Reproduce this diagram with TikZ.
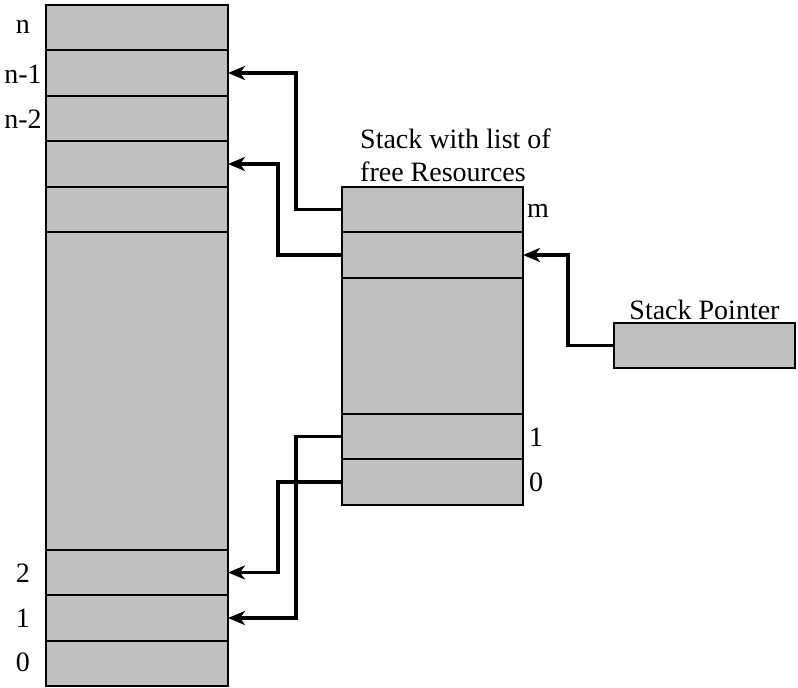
\documentclass[tikz,border=0pt]{standalone}
\usepackage{fontspec}
\setmainfont{Liberation Serif}
\usetikzlibrary{arrows.meta}
\definecolor{cellgray}{HTML}{C0C0C0}
\begin{document}
\begin{tikzpicture}[x=1pt,y=-1pt,
  cell/.style={draw=black, fill=cellgray, line width=1.2pt, inner sep=0pt, outer sep=0pt, minimum width=182pt},
  lab/.style={inner sep=0pt, anchor=base, font=\fontsize{28}{34}\selectfont},
  rlab/.style={inner sep=0pt, anchor=base west, font=\fontsize{28}{34}\selectfont},
  conn/.style={line width=3.3pt, -{Stealth[length=17pt,width=14pt,inset=5pt]}}]
\useasboundingbox (0,0) rectangle (798,688);
% left column
\node[cell, minimum height=45pt] (Ln)  at (137,27.5) {};
\node[cell, minimum height=46pt] (Ln1) at (137,73) {};
\node[cell, minimum height=45pt] (Ln2) at (137,118.5) {};
\node[cell, minimum height=46pt] (L3)  at (137,164) {};
\node[cell, minimum height=45pt] (L4)  at (137,209.5) {};
\node[cell, minimum height=318pt] (Lbig) at (137,391) {};
\node[cell, minimum height=45pt] (L2)  at (137,572.5) {};
\node[cell, minimum height=46pt] (L1)  at (137,618) {};
\node[cell, minimum height=45pt] (L0)  at (137,663.5) {};
% stack
\node[cell, minimum width=181pt, minimum height=45pt] (Sm)  at (432.5,209.5) {};
\node[cell, minimum width=181pt, minimum height=46pt] (Sm1) at (432.5,255) {};
\node[cell, minimum width=181pt, minimum height=136pt] (Sbig) at (432.5,346) {};
\node[cell, minimum width=181pt, minimum height=45pt] (S1)  at (432.5,436.5) {};
\node[cell, minimum width=181pt, minimum height=46pt] (S0)  at (432.5,482) {};
% stack pointer
\node[cell, minimum width=181pt, minimum height=45pt] (SP) at (704.5,345.5) {};
% labels
\node[lab] (tn)  at (23,33) {n};
\node[lab] (tn1) at (23,83) {n-1};
\node[lab] (tn2) at (23,128) {n-2};
\node[lab] (t2)  at (23,582) {2};
\node[lab] (t1)  at (23,627) {1};
\node[lab] (t0)  at (23,671) {0};
\node[rlab] (tm)  at (527,217) {m};
\node[rlab] (ts1) at (529,446) {1};
\node[rlab] (ts0) at (529,491) {0};
\node[rlab] (tt1) at (360,148) {Stack with list of};
\node[rlab] (tt2) at (360,181) {free Resources};
\node[lab] (tsp) at (704.5,319) {Stack Pointer};
% connectors
\draw[conn] (Sm.west) -- ++(-46,0) |- (Ln1.east);
\draw[conn] (Sm1.west) -- ++(-64,0) |- (L3.east);
\draw[conn] (S1.west) -- ++(-46,0) |- (L1.east);
\draw[conn] (S0.west) -- ++(-64,0) |- (L2.east);
\draw[conn] (SP.west) -- ++(-46,0) |- (Sm1.east);
\end{tikzpicture}
\end{document}
